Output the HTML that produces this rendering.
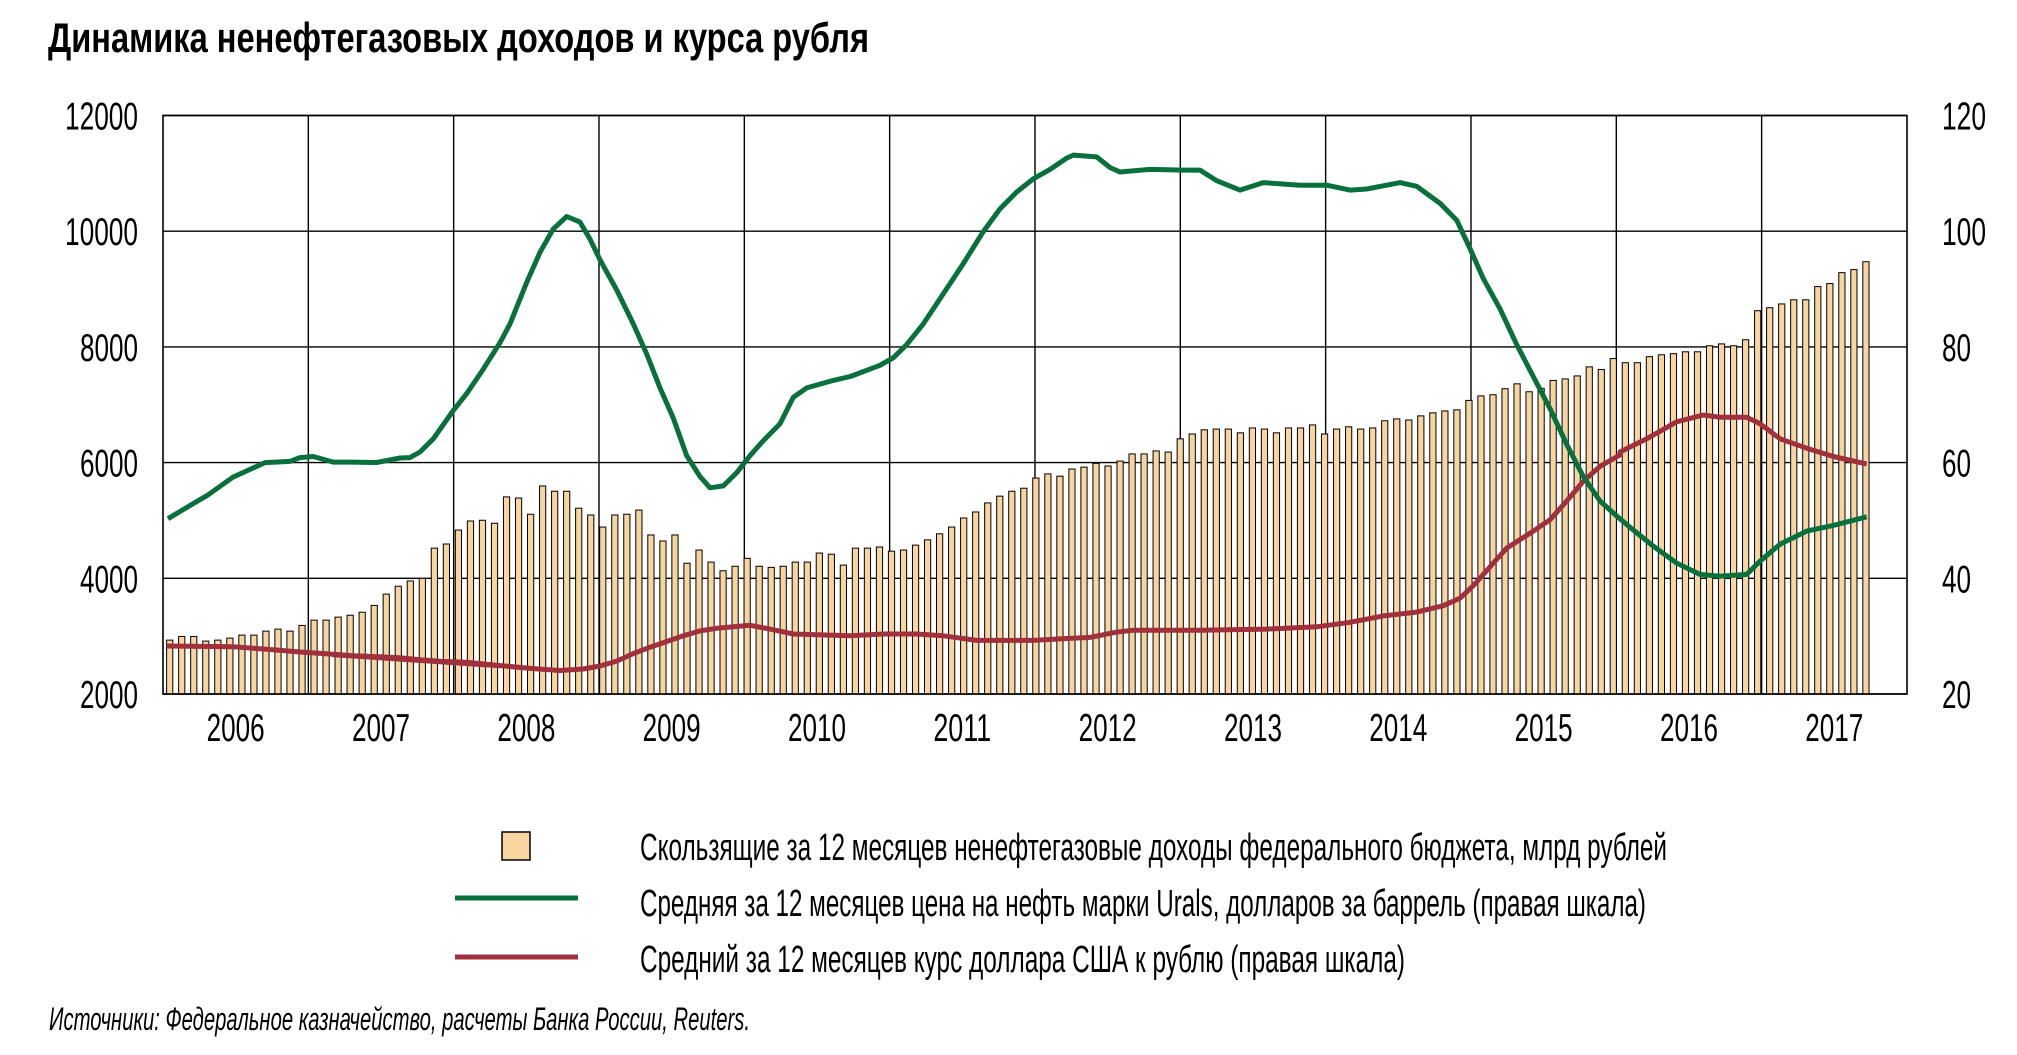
<!DOCTYPE html>
<html><head><meta charset="utf-8"><style>
html,body{margin:0;padding:0;background:#fff;}
svg{display:block;}
text{font-family:"Liberation Sans",sans-serif;fill:#000;}
</style></head><body>
<svg id="s" width="2017" height="1055" viewBox="0 0 2017 1055" xmlns="http://www.w3.org/2000/svg">
<text x="48" y="52" font-size="42" font-weight="bold" textLength="821" lengthAdjust="spacingAndGlyphs">Динамика ненефтегазовых доходов и курса рубля</text>
<g id="g"></g>
<rect x="502" y="832" width="28" height="28" fill="#f8d49f" stroke="#000" stroke-width="1.5"/>
<line x1="455" y1="898" x2="578" y2="898" stroke="#07703b" stroke-width="5"/>
<line x1="455" y1="957" x2="578" y2="957" stroke="#a0303b" stroke-width="5"/>
<text x="640" y="860" font-size="38" textLength="1027" lengthAdjust="spacingAndGlyphs">Скользящие за 12 месяцев ненефтегазовые доходы федерального бюджета, млрд рублей</text>
<text x="640" y="916" font-size="38" textLength="1006" lengthAdjust="spacingAndGlyphs">Средняя за 12 месяцев цена на нефть марки Urals, долларов за баррель (правая шкала)</text>
<text x="640" y="972" font-size="38" textLength="765" lengthAdjust="spacingAndGlyphs">Средний за 12 месяцев курс доллара США к рублю (правая шкала)</text>
<text x="49" y="1030" font-size="32" font-style="italic" textLength="701" lengthAdjust="spacingAndGlyphs">Источники: Федеральное казначейство, расчеты Банка России, Reuters.</text>
</svg>
<script>
(function(){
var NS="http://www.w3.org/2000/svg",g=document.getElementById("g");
var L=163,R=1907,T=115.5,B=694,yw=145.33;
function el(n,a,t){var e=document.createElementNS(NS,n);for(var k in a)e.setAttribute(k,a[k]);if(t!==undefined)e.textContent=t;g.appendChild(e);return e;}
function vy(v){return B-(v-2000)*(B-T)/10000;}
var z3=[271,260,260,274,271,265,256,256,244,238,244];
var vals=z3.map(function(z){return 2000+(433-z)*5.75;});
var zz=[1370,1356,1356,1348,1343,1335,1317,1287,1266,1252,1245,1165,1154,
1117,1093,1091,1099,1029,1032,1075,1000,1014,1014,1059,1077,
1109,1077,1075,1064,1130,1146,1130,1205,1170,1202,1225,1213,1192,
1213,1216,1213,1202,1202,1178,1181,1210,1165,1165,1162,1173,1170,1157,1143,1127,1109,1085,1069,1045,1027,1014,1006,979,968,974,955,950,940,947,934,915,915,907,910,875,862,
851,849,849,859,846,849,859,846,846,838,862,849,843,849,846,827,822,825,814,806,801,798,773,761,758,742,729,750,741,720,716,708,684,691,662,673,673,657,
652,649,644,644,628,623,628,612,535,527,517,506,506,471,463,434,426,405];
zz.forEach(function(z){vals.push(12000-(z-17)*2000/307);});
for(var k=0;k<=5;k++){var y=T+k*(B-T)/5;el("line",{x1:L,y1:y,x2:R,y2:y,stroke:"#000","stroke-width":1.4});}
for(var k=1;k<12;k++){var x=L+k*yw;el("line",{x1:x,y1:T,x2:x,y2:B,stroke:"#000","stroke-width":1.4});}
vals.forEach(function(v,i){var c=169.7+i*12.03,y=vy(v);el("rect",{x:c-3.1,y:y,width:6.2,height:B-y,fill:"#f8d49f",stroke:"#000","stroke-width":1});});
el("rect",{x:L,y:T,width:R-L,height:B-T,fill:"none",stroke:"#000","stroke-width":1.6});
function ry(v){return B-(v-20)*(B-T)/100;}
function conv(x0,pts){return pts.map(function(p){return [x0+p[0]/3,T+(p[1]-17)/2.654];});}
var green=[[168,ry(50.3)],[194,ry(53)],[207,ry(54.3)],[233,ry(57.5)],[265,ry(60)],[290,ry(60.2)]]
.concat(conv(300,[[0,925],[40,922],[100,937],[150,937],[230,938],[300,926],[330,925],[360,910],[400,875],[460,800],[500,755],[550,690],[600,620],[630,570],[680,460],[720,380],[760,318],[800,285],[840,300],[870,345],[900,400],[950,480],[1000,570],[1040,650],[1080,740],[1120,820],[1160,920],[1200,975],[1230,1005],[1270,1000],[1310,965]]))
.concat(conv(750,[[0,920],[40,880],[90,835],[130,765],[170,740],[250,720],[300,710],[390,680],[430,660],[470,625],[520,570],[580,490],[640,410],[700,325],[750,265],[800,220],[850,185],[900,160],[950,130],[970,122],[1040,127],[1080,155],[1110,167],[1200,160],[1300,162]]))
.concat(conv(1200,[[0,162],[50,190],[120,215],[190,195],[300,202],[380,202],[450,215],[500,212],[600,195],[650,205],[720,250],[770,295],[810,370],[850,450],[900,530],[950,625],[1000,710],[1050,795],[1100,890],[1150,975],[1200,1040],[1250,1080]]))
.concat(conv(1620,[[30,1110],[100,1160],[170,1205],[240,1235],[300,1240],[380,1235],[420,1200],[480,1155],[560,1120],[640,1105],[740,1082]]));
var red=[[500,288],[700,290],[800,298],[900,306],[1000,313],[1100,320],[1200,325],[1300,332],[1500,347]].map(function(p){return [p[0]/3,550+p[1]/3];})
.concat(conv(300,[[100,1448],[200,1452],[300,1456],[400,1465],[500,1468],[600,1477],[700,1485],[780,1490],[850,1486],[900,1478],[950,1465],[1000,1445],[1050,1428],[1100,1413],[1150,1398],[1200,1385],[1250,1378],[1350,1370]]))
.concat(conv(750,[[60,1380],[130,1393],[300,1398],[400,1393],[500,1393],[580,1398],[680,1410],[850,1410],[950,1405],[1020,1402],[1100,1388],[1150,1383],[1350,1383]]))
.concat(conv(1200,[[200,1380],[350,1374],[450,1362],[550,1345],[650,1335],[730,1318],[780,1298],[820,1265],[870,1215],[920,1165],[1000,1120],[1050,1090],[1100,1040],[1150,988],[1200,948],[1260,918]]))
.concat(conv(1620,[[0,910],[80,875],[170,830],[250,812],[300,818],[380,818],[420,835],[480,875],[560,900],[640,922],[740,942]]));
function path(p){return "M"+p.map(function(q){return q[0].toFixed(1)+","+q[1].toFixed(1);}).join("L");}
el("path",{d:path(red),fill:"none",stroke:"#a0303b","stroke-width":5,"stroke-linejoin":"round"});
el("path",{d:path(green),fill:"none",stroke:"#07703b","stroke-width":5,"stroke-linejoin":"round"});
var lv=[2000,4000,6000,8000,10000,12000];
lv.forEach(function(v,i){var y=B-i*(B-T)/5+14;
 el("text",{x:138,y:y,"font-size":39,"text-anchor":"end",textLength:v>=10000?73:58,lengthAdjust:"spacingAndGlyphs"},String(v));
 var r=String(20+i*20);
 el("text",{x:1942,y:y,"font-size":39,textLength:r.length==3?44:29,lengthAdjust:"spacingAndGlyphs"},r);
});
for(var k=0;k<12;k++){el("text",{x:L+k*yw+yw/2,y:741,"font-size":39,"text-anchor":"middle",textLength:58,lengthAdjust:"spacingAndGlyphs"},String(2006+k));}
})();
</script>
</body></html>
